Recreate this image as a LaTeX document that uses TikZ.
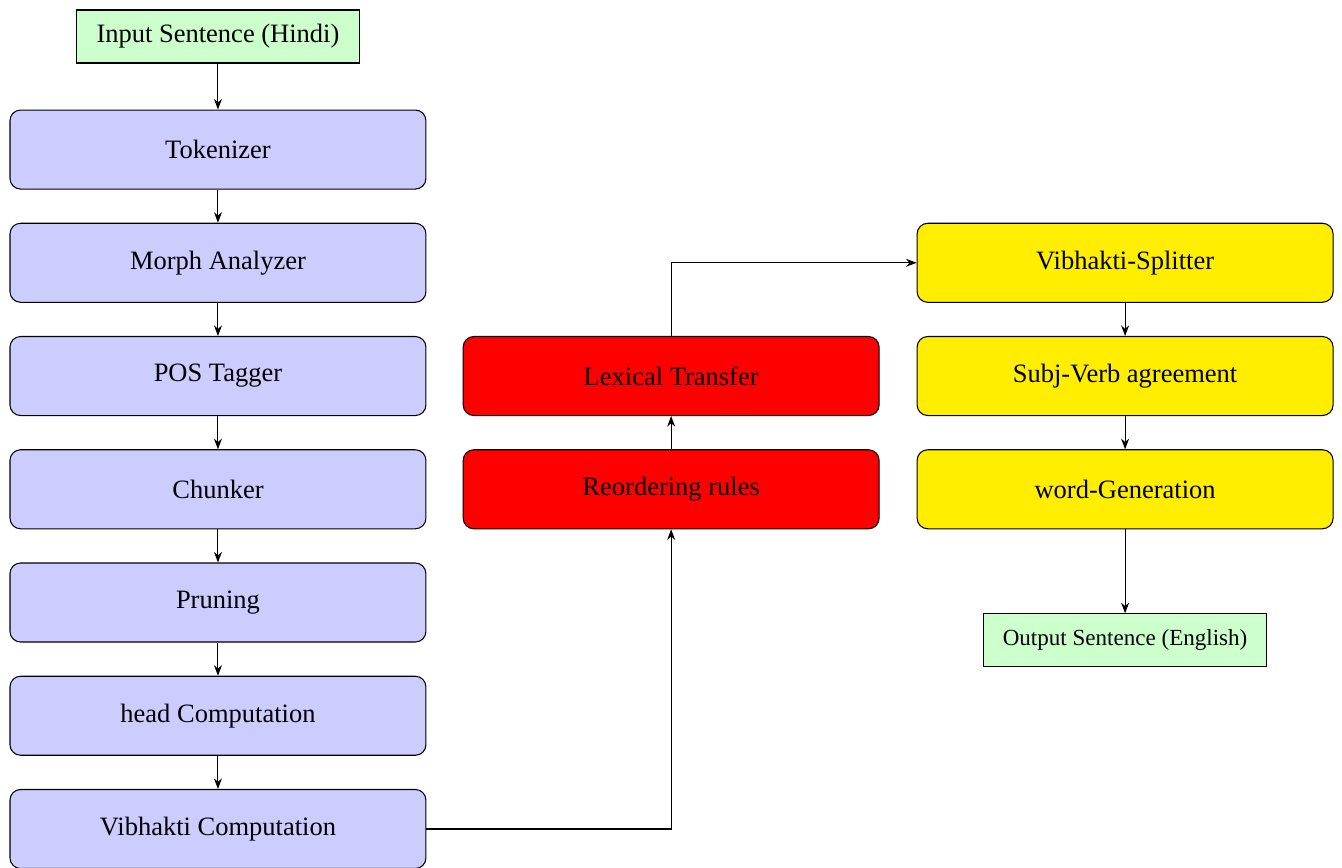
\documentclass[tikz,border=0pt]{standalone}
\usepackage{fontspec}
\setmainfont{Liberation Serif}
\usetikzlibrary{positioning,arrows.meta}

\definecolor{stageyellow}{RGB}{255,238,0}

\begin{document}
\begin{tikzpicture}[
  node distance=0.440cm,
  >={Stealth[length=4pt,width=3pt]},
  module/.style={draw, rounded corners, minimum width=5.517cm, minimum height=1.048cm},
  analysis/.style={module, fill=blue!20},
  transfer/.style={module, fill=red},
  generation/.style={module, fill=stageyellow},
  sentence/.style={draw, fill=green!20, minimum width=3.753cm, minimum height=0.703cm}
]

\useasboundingbox (0,0) rectangle (17.80,-11.50);

% Input
\node[sentence] (input) at (2.891,-0.484) {Input Sentence (Hindi)};

% Analysis column
\node[analysis, below=0.610cm of input] (tok) {Tokenizer};
\node[analysis, below=of tok] (morph) {Morph Analyzer};
\node[analysis, below=of morph] (pos) {POS Tagger};
\node[analysis, below=of pos] (chunk) {Chunker};
\node[analysis, below=of chunk] (prune) {Pruning};
\node[analysis, below=of prune] (head) {head Computation};
\node[analysis, below=of head] (vibcomp) {Vibhakti Computation};

% Transfer column
\node[transfer, right=0.480cm of chunk] (reord) {Reordering rules};
\node[transfer, above=of reord] (lex) {Lexical Transfer};

% Generation column
\node[generation, right=0.490cm of reord] (wordgen) {word-Generation};
\node[generation, above=of wordgen] (subj) {Subj-Verb agreement};
\node[generation, above=of subj] (split) {Vibhakti-Splitter};

% Output
\node[sentence, below=1.114cm of wordgen, font=\fontsize{8.7}{10}\selectfont] (output) {Output Sentence (English)};

% Arrows
\foreach \a/\b in {input/tok, tok/morph, morph/pos, pos/chunk, chunk/prune, prune/head, head/vibcomp}
  \draw[->] (\a) -- (\b);

\draw[->] (vibcomp.east) -| (reord.south);
\draw[->] (reord) -- (lex);
\draw[->] (lex.north) |- (split.west);

\foreach \a/\b in {split/subj, subj/wordgen, wordgen/output}
  \draw[->] (\a) -- (\b);

\end{tikzpicture}
\end{document}
